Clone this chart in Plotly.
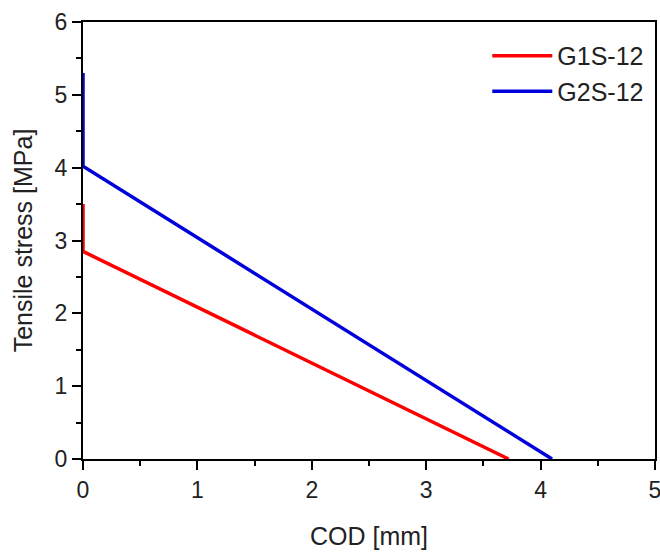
import plotly.graph_objects as go

# Data
g1_cod = [0.0, 0.0, 3.72]
g1_stress = [3.5, 2.85, 0.0]
g2_cod = [0.0, 0.0, 4.10]
g2_stress = [5.3, 4.02, 0.0]

x_ticks = [0, 1, 2, 3, 4, 5]
y_ticks = [0, 1, 2, 3, 4, 5, 6]

FONT = "Liberation Sans, Arial, sans-serif"
TXT = "#222"

fig = go.Figure()
fig.add_trace(go.Scatter(x=g1_cod, y=g1_stress, mode="lines", name="G1S-12",
                         line=dict(color="#ff0000", width=3.5)))
fig.add_trace(go.Scatter(x=g2_cod, y=g2_stress, mode="lines", name="G2S-12",
                         line=dict(color="#0000dd", width=3.5)))

axis_common = dict(
    showgrid=False, zeroline=False, showline=True, linecolor="black", linewidth=2,
    mirror=True, ticks="outside", ticklen=9, tickwidth=2, tickcolor="black",
    automargin=False, ticklabeloverflow="allow",
    tickfont=dict(family=FONT, size=23, color=TXT),
    minor=dict(ticks="outside", ticklen=5, tickwidth=2, tickcolor="black", dtick=0.5),
)

fig.update_xaxes(range=[0, 5], tickvals=x_ticks, **axis_common,
                 title=dict(text="COD [mm]", standoff=26,
                            font=dict(family=FONT, size=25, color=TXT)))
fig.update_yaxes(range=[0, 6], tickvals=y_ticks, **axis_common,
                 title=dict(text="Tensile stress [MPa]", standoff=15,
                            font=dict(family=FONT, size=25, color=TXT)))

fig.update_layout(
    width=660, height=553,
    margin=dict(l=83, r=5, t=22, b=94),
    paper_bgcolor="white", plot_bgcolor="white",
    legend=dict(x=0.99, y=0.975, xanchor="right", yanchor="top",
                bgcolor="rgba(0,0,0,0)", itemwidth=60, tracegroupgap=0,
                font=dict(family=FONT, size=25, color=TXT)),
)

fig.write_html("out.html", config={"displayModeBar": False},
               post_script="document.body.style.margin='0';document.body.style.overflow='hidden';")
